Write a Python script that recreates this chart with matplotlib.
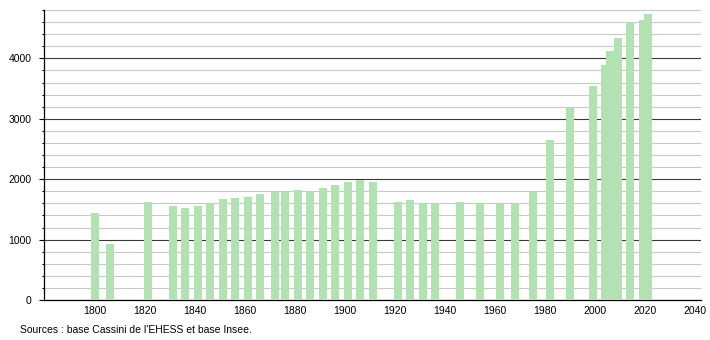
import matplotlib
matplotlib.use("Agg")
import matplotlib.pyplot as plt
from matplotlib.ticker import MultipleLocator

plt.rcParams['font.family'] = ['Liberation Sans', 'DejaVu Sans']

# population by census year
years = [1800, 1806, 1821, 1831, 1836, 1841, 1846, 1851, 1856, 1861,
         1866, 1872, 1876, 1881, 1886, 1891, 1896, 1901, 1906, 1911,
         1921, 1926, 1931, 1936, 1946, 1954, 1962, 1968, 1975, 1982,
         1990, 1999, 2004, 2006, 2009, 2014, 2019, 2021]
population = [1440, 931, 1629, 1562, 1529, 1562, 1612, 1673, 1695, 1712,
              1762, 1795, 1795, 1828, 1812, 1861, 1911, 1945, 1994, 1945,
              1629, 1662, 1612, 1590, 1629, 1612, 1590, 1590, 1789, 2643,
              3175, 3540, 3889, 4127, 4333, 4609, 4637, 4731]
x_ticks = list(range(1800, 2041, 20))
source_note = "Sources : base Cassini de l'EHESS et base Insee."

W, H = 710, 340
fig = plt.figure(figsize=(W / 100, H / 100), dpi=100)
ax = fig.add_axes([44 / W, 40 / H, 656.7 / W, 290 / H])

ax.bar(years, population, width=3.2, color='#b2e2b2', zorder=3)

ax.set_xlim(1779.5, 2042.2)
ax.set_ylim(0, 4800)

ax.set_xticks(x_ticks)
ax.yaxis.set_major_locator(MultipleLocator(1000))
ax.yaxis.set_minor_locator(MultipleLocator(200))

ax.grid(axis='y', which='minor', color='#c8c8c8', linewidth=0.8, zorder=1)
ax.grid(axis='y', which='major', color='#3a3a3a', linewidth=0.8, zorder=2)
ax.set_axisbelow(True)

ax.tick_params(axis='x', length=0, pad=4.5, labelsize=7.5)
ax.tick_params(axis='y', which='major', length=3.6, width=0.8, pad=5.5, labelsize=7.5)
ax.tick_params(axis='y', which='minor', length=1.5, width=0.8)

for side in ['top', 'right']:
    ax.spines[side].set_visible(False)
for side in ['left', 'bottom']:
    ax.spines[side].set_linewidth(0.9)
    ax.spines[side].set_color('black')

fig.text(20 / W, 10 / H, source_note, fontsize=7.5, va='center', ha='left')

fig.savefig('out.png', dpi=100)
